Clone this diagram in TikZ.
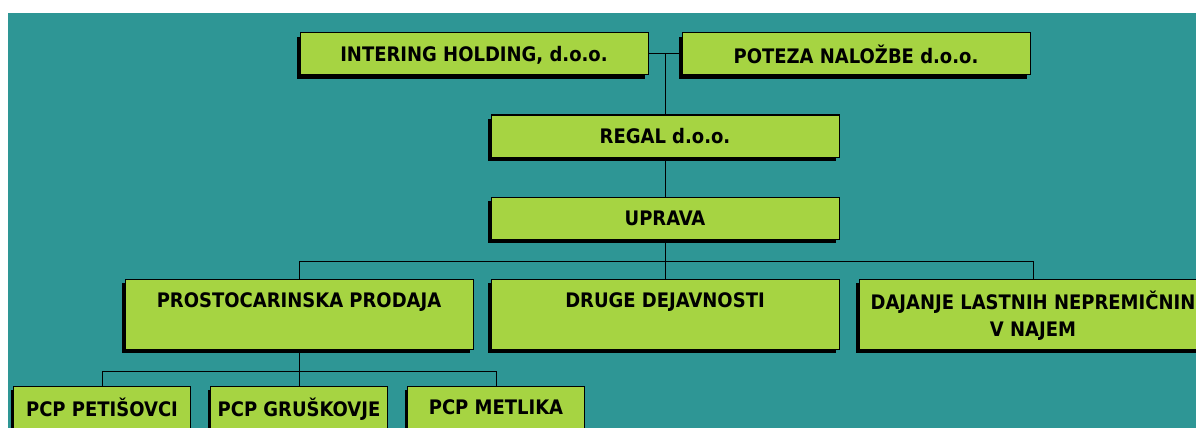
\documentclass[tikz,border=0pt]{standalone}
\usepackage{fontspec}
\usepackage{tikz}
\usetikzlibrary{positioning,shadows,calc}
\newfontfamily\orgfont{DejaVu Sans Condensed}
\definecolor{chartteal}{RGB}{46,150,149}
\definecolor{boxgreen}{RGB}{166,212,66}

\begin{document}
\begin{tikzpicture}[
    orgbox/.style={
        rectangle, draw=black, line width=0.75pt, fill=boxgreen,
        minimum width=#1, minimum height=31.5pt, inner sep=0pt, outer sep=0pt, align=center,
        text depth=0pt,
        drop shadow={shadow xshift=-2.25pt, shadow yshift=-3pt, fill=black, opacity=1},
        font=\orgfont\bfseries\fontsize{15pt}{20.5pt}\selectfont
    },
    orgbox/.default=261pt,
    unitbox/.style={orgbox, minimum height=52.5pt},
    shopbox/.style={orgbox=132.75pt},
    orgline/.style={draw=black, line width=0.75pt}
]
    % page and background
    \useasboundingbox (0,0) rectangle (897pt,-321pt);
    \fill[white] (0,0) rectangle (897pt,-321pt);
    \fill[chartteal] (6pt,-9.75pt) rectangle (897pt,-321pt);
    \clip (0,0) rectangle (897pt,-321pt);

    % owners
    \node[orgbox] (intering) at (355.5pt,-40.5pt) {INTERING HOLDING, d.o.o.};
    \node[orgbox, right=25.5pt of intering] (poteza) {POTEZA NALOŽBE d.o.o.};
    \coordinate (topjoin) at ($(intering.east)!0.5!(poteza.west)$);

    % company
    \node[orgbox, below=45.75pt of topjoin] (regal) {REGAL d.o.o.};
    \node[orgbox, below=30pt of regal] (uprava) {UPRAVA};

    % units
    \node[unitbox, below=30pt of uprava] (druge) {DRUGE DEJAVNOSTI\\\mbox{}};
    \node[unitbox, left=13.5pt of druge] (prosto) {PROSTOCARINSKA PRODAJA\\\mbox{}};
    \node[unitbox, right=15pt of druge] (najem) {DAJANJE LASTNIH NEPREMIČNIN\\V NAJEM};

    % shops
    \node[shopbox, below=28pt of prosto] (gruskovje) {PCP GRUŠKOVJE};
    \node[shopbox, left=15pt of gruskovje] (petisovci) {PCP PETIŠOVCI};
    \node[shopbox, right=15pt of gruskovje] (metlika) {PCP METLIKA};

    \draw[orgline] (intering.east) -- (poteza.west);
    \draw[orgline] (topjoin) -- (regal.north);
    \draw[orgline] (regal) -- (uprava);
    \draw[orgline] (uprava) -- (druge);
    \draw[orgline] (uprava.south) -- ++(0,-16.5pt) -| (prosto.north);
    \draw[orgline] (uprava.south) -- ++(0,-16.5pt) -| (najem.north);
    \draw[orgline] (prosto) -- (gruskovje);
    \draw[orgline] (prosto.south) -- ++(0,-16.5pt) -| (petisovci.north);
    \draw[orgline] (prosto.south) -- ++(0,-16.5pt) -| (metlika.north);
\end{tikzpicture}
\end{document}
